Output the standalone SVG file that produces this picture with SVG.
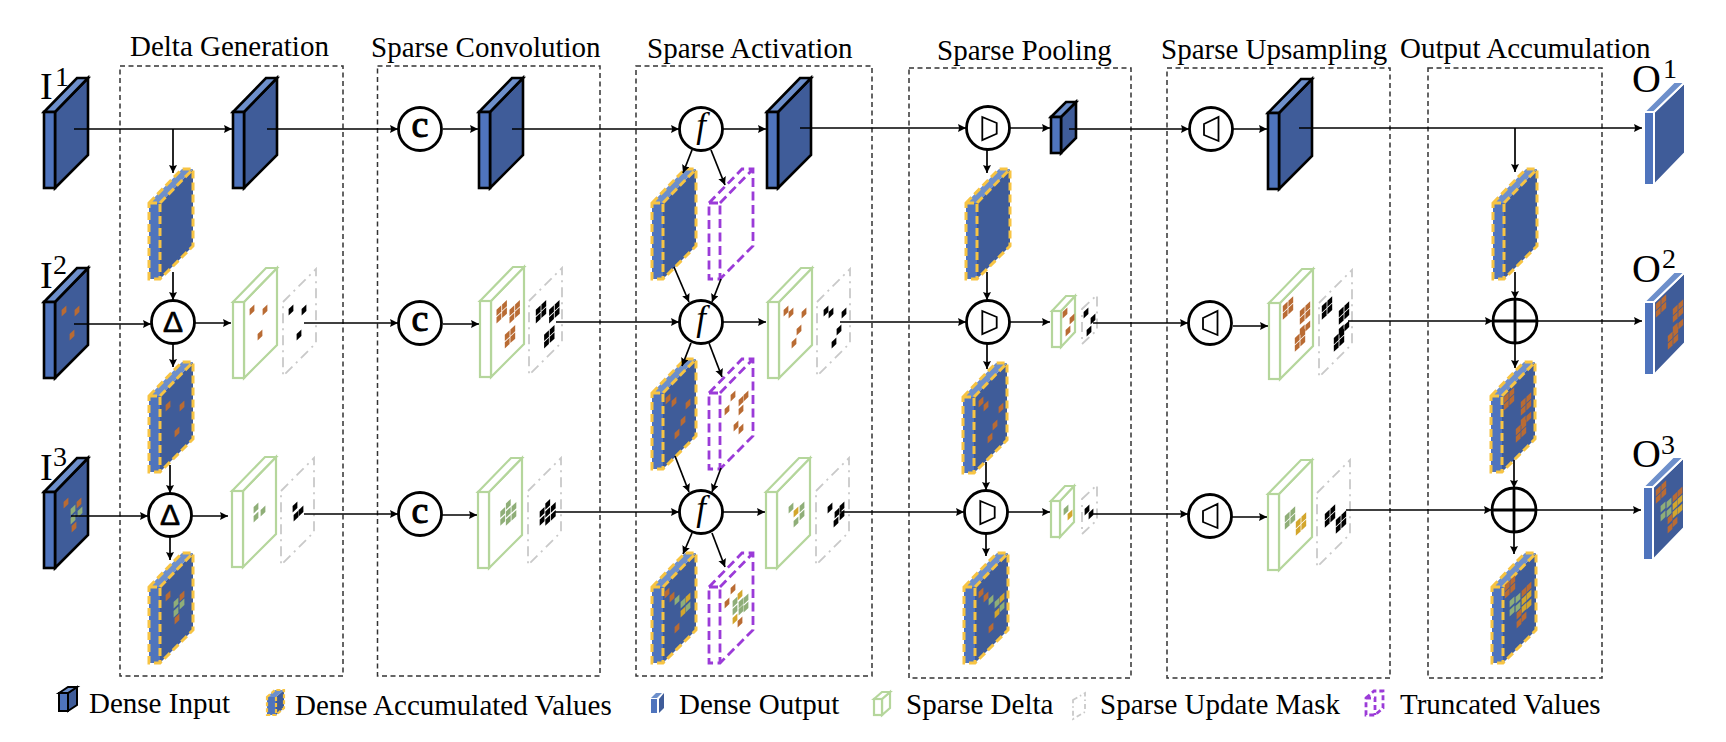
<svg xmlns="http://www.w3.org/2000/svg" width="1726" height="742" viewBox="0 0 1726 742">
<style>
text{font-family:"Liberation Serif","Times New Roman",serif;fill:#000}
.h{font-size:29px}
.big{font-size:38px}
.sup{font-size:28px}
.frame{fill:none;stroke:#333;stroke-width:1.5;stroke-dasharray:5 3.5}
.side{fill:#4f74bd}.top{fill:#6d8fcb}.face{fill:#3f5c99}
.dense{stroke:#000;stroke-width:2.6;stroke-linejoin:miter}
.acc{stroke:#f7c443;stroke-width:3;stroke-dasharray:8 4}
.out{stroke:#fff;stroke-width:2}
.sparse{fill:#fff;stroke:#b5d69c;stroke-width:2.2}
.trunc{fill:none;stroke:#9b3bd8;stroke-width:2.8;stroke-dasharray:9 4.500}
.mask{fill:none;stroke:#c9c9c9;stroke-width:1.8;stroke-dasharray:10 5 2 5}
.op{fill:#fff;stroke:#000;stroke-width:2.8}
.cc{font-size:38px;font-weight:400;stroke:#000;stroke-width:1}
.dl{font-family:"Liberation Sans",sans-serif;font-size:30px;stroke:#000;stroke-width:.7}
.fn{font-size:35px;font-style:italic}
.glyph{fill:none;stroke:#000;stroke-width:1.8}
.cross{stroke:#000;stroke-width:2.8}
.b{fill:#b96b33}.g{fill:#8fae78}.y{fill:#d3a62c}.k{fill:#000}
#connectors line{stroke:#000;stroke-width:1.7;marker-end:url(#ah)}
</style>
<defs>
<marker id="ah" markerUnits="userSpaceOnUse" markerWidth="9" markerHeight="9" refX="8" refY="4" orient="auto"><path d="M0 0L8 4L0 8L1.2 4Z" fill="#000"/></marker>
<path id="c" d="M-2.4-.9L2.400-5.400V1L-2.4 5.400Z"/>
<g id="q"><use href="#c" x="-2.8" y="-1"/><use href="#c" x="-2.8" y="6.4"/><use href="#c" x="2.8" y="-6.4"/><use href="#c" x="2.8" y="1"/></g>
<g id="p2"><use href="#q"/><use href="#q" x="17" y="5"/><use href="#c" x="19.800" y="18"/><use href="#c" x="14.200" y="22"/><use href="#q" x="12" y="32"/></g>
<g id="p7"><use href="#c" x="-5.6" y="-2"/><use href="#c" x="-5.6" y="6"/><use href="#c" y="-10"/><use href="#c" y="-2"/><use href="#c" y="6"/><use href="#c" x="5.6" y="-7"/><use href="#c" x="5.6" y="1"/></g>
<g id="p3"><use href="#q" class="b"/><use href="#c" x="14" y="5" class="b"/><use href="#c" x="19" class="b"/><use href="#c" x="14" y="13" class="y"/><use href="#c" x="19" y="8" class="y"/><use href="#c" x="8" y="11" class="g"/><use href="#c" x="2" y="15" class="g"/><use href="#c" x="8" y="20" class="g"/><use href="#c" x="2" y="24" class="g"/><use href="#c" x="14" y="21" class="y"/><use href="#c" x="19" y="17" class="y"/><use href="#c" x="9" y="27" class="b"/><use href="#c" x="14" y="30" class="b"/><use href="#c" x="9" y="36" class="b"/></g>
<g id="dense"><g class="dense"><polygon class="face" points="11,0 44,-34 44,43 11,76"/><polygon class="top" points="0,0 33,-34 44,-34 11,0"/><rect class="side" width="11" height="76"/></g></g>
<g id="acc"><polygon class="face" points="11,0 44,-34 44,43 11,76"/><polygon class="top" points="0,0 33,-34 44,-34 11,0"/><rect class="side" width="11" height="76"/><path class="acc" fill="none" d="M0 0L33-34H44V43L11 76H0ZM0 0H11V76M11 0L44-34"/></g>
<g id="out"><g class="out"><polygon class="face" points="10,0 41,-30 41,41 10,73"/><polygon class="top" points="0,0 30,-30 41,-30 10,0"/><rect class="side" width="10" height="73"/></g></g>
<g id="sparse"><g class="sparse"><polygon points="11,0 44,-34 44,43 11,76"/><polygon points="0,0 33,-34 44,-34 11,0"/><rect width="11" height="76"/></g></g>
<g id="trunc"><path class="trunc" d="M0 0L33-34H44V43L11 76H0ZM0 0H11V76M11 0L44-34"/></g>
<path id="mask" class="mask" d="M0 0L33-33V41L0 74Z"/>
<g id="maskS"><path class="mask" d="M0 0L15-14V21L0 35Z"/></g>
<g id="sparseS"><g class="sparse"><polygon points="9,0 23,-15 23,21 9,36"/><polygon points="0,0 14,-15 23,-15 9,0"/><rect width="9" height="36"/></g></g>
<circle id="op" class="op" r="21.5"/>
</defs>
<rect width="1726" height="742" fill="#fff"/>
<g id="frames">
<rect class="frame" x="120" y="66" width="223" height="610"/>
<rect class="frame" x="377.500" y="66" width="222.500" height="610"/>
<rect class="frame" x="636" y="66" width="236" height="610"/>
<rect class="frame" x="909" y="68" width="222" height="610"/>
<rect class="frame" x="1167" y="68" width="223" height="610"/>
<rect class="frame" x="1428" y="68" width="174" height="610"/>
</g>
<g id="stage-labels">
<text class="h" x="130" y="56">Delta Generation</text>
<text class="h" x="371" y="57">Sparse Convolution</text>
<text class="h" x="647" y="58">Sparse Activation</text>
<text class="h" x="937" y="60">Sparse Pooling</text>
<text class="h" x="1161" y="59">Sparse Upsampling</text>
<text class="h" x="1400" y="58">Output Accumulation</text>
</g>
<g id="I1"><use href="#dense" x="44" y="112"/><text class="big" x="40" y="99">I</text><text class="sup" x="55" y="86">1</text></g>
<g id="I2"><use href="#dense" x="44" y="302"/><use href="#c" x="64" y="311" class="b"/><use href="#c" x="77" y="311" class="b"/><use href="#c" x="72" y="335" class="b"/><text class="big" x="40" y="288">I</text><text class="sup" x="53" y="274">2</text></g>
<g id="I3"><use href="#dense" x="44" y="492"/><use href="#c" x="66" y="503" class="b"/><use href="#c" x="79" y="503" class="b"/><use href="#c" x="73" y="510" class="g"/><use href="#c" x="80" y="512" class="g"/><use href="#c" x="73" y="519" class="g"/><use href="#c" x="74" y="527" class="b"/><text class="big" x="40" y="480">I</text><text class="sup" x="53" y="466">3</text></g>
<g id="delta-dense"><use href="#dense" x="233" y="112"/></g>
<g id="delta-acc1"><use href="#acc" x="149" y="203"/></g>
<g id="delta-acc2"><use href="#acc" x="149" y="396"/><use href="#c" x="168" y="406" class="b"/><use href="#c" x="182" y="406" class="b"/><use href="#c" x="177" y="432" class="b"/></g>
<g id="delta-acc3"><use href="#acc" x="149" y="587"/><use href="#c" x="168" y="596" class="b"/><use href="#c" x="182" y="596" class="b"/><use href="#c" x="176" y="603" class="g"/><use href="#c" x="182" y="604" class="g"/><use href="#c" x="176" y="612" class="g"/><use href="#c" x="177" y="619" class="b"/></g>
<g id="delta-op2"><use href="#op" x="173" y="322"/><text class="dl" x="173" y="332" text-anchor="middle">Δ</text></g>
<g id="delta-op3"><use href="#op" x="170" y="515"/><text class="dl" x="170" y="525" text-anchor="middle">Δ</text></g>
<g id="delta-sparse2"><use href="#sparse" x="233" y="302"/><use href="#c" x="252" y="310" class="b"/><use href="#c" x="265" y="310" class="b"/><use href="#c" x="260" y="335" class="b"/></g>
<g id="delta-mask2"><use href="#mask" x="283" y="302"/><use href="#c" x="291" y="310" class="k"/><use href="#c" x="304" y="310" class="k"/><use href="#c" x="299" y="335" class="k"/></g>
<g id="delta-sparse3"><use href="#sparse" x="232" y="491"/><use href="#c" x="256" y="508" class="g"/><use href="#c" x="263" y="511" class="g"/><use href="#c" x="256" y="517" class="g"/></g>
<g id="delta-mask3"><use href="#mask" x="281" y="491"/><use href="#c" x="295" y="507" class="k"/><use href="#c" x="301" y="511" class="k"/><use href="#c" x="296" y="516" class="k"/></g>
<g id="conv-op1"><use href="#op" x="420" y="129"/><text class="cc" x="420" y="137" text-anchor="middle">c</text></g>
<g id="conv-op2"><use href="#op" x="420" y="323"/><text class="cc" x="420" y="331" text-anchor="middle">c</text></g>
<g id="conv-op3"><use href="#op" x="420" y="514"/><text class="cc" x="420" y="523" text-anchor="middle">c</text></g>
<g id="conv-dense"><use href="#dense" x="479" y="112"/></g>
<g id="conv-sparse2"><use href="#sparse" x="480" y="301"/><use href="#q" x="501.700" y="311.700" class="b"/><use href="#q" x="514.700" y="311.700" class="b"/><use href="#q" x="510" y="336.700" class="b"/></g>
<g id="conv-mask2"><use href="#mask" x="529" y="301"/><use href="#q" x="541" y="311.700" class="k"/><use href="#q" x="554.300" y="311.700" class="k"/><use href="#q" x="549.300" y="336.700" class="k"/></g>
<g id="conv-sparse3"><use href="#sparse" x="478" y="492"/><use href="#p7" x="508.300" y="514.300" class="g"/></g>
<g id="conv-mask3"><use href="#mask" x="528" y="491"/><use href="#p7" x="547.700" y="514.300" class="k"/></g>
<g id="act-op1"><use href="#op" x="701" y="129"/><text class="fn" x="701" y="137" text-anchor="middle">f</text></g>
<g id="act-op2"><use href="#op" x="701" y="322"/><text class="fn" x="701" y="330" text-anchor="middle">f</text></g>
<g id="act-op3"><use href="#op" x="701" y="512"/><text class="fn" x="701" y="520" text-anchor="middle">f</text></g>
<g id="act-dense"><use href="#dense" x="767" y="112"/></g>
<g id="act-acc1"><use href="#acc" x="652" y="203"/></g>
<g id="act-trunc1"><use href="#trunc" x="709" y="203"/></g>
<g id="act-sparse2"><use href="#sparse" x="768" y="302"/><use href="#c" x="786" y="311" class="b"/><use href="#c" x="791" y="313" class="b"/><use href="#c" x="804" y="313" class="b"/><use href="#c" x="799" y="330" class="b"/><use href="#c" x="794" y="343" class="b"/></g>
<g id="act-mask2"><use href="#mask" x="817" y="302"/><use href="#c" x="826" y="311" class="k"/><use href="#c" x="831" y="313" class="k"/><use href="#c" x="844" y="313" class="k"/><use href="#c" x="839" y="330" class="k"/><use href="#c" x="834" y="343" class="k"/></g>
<g id="act-acc2"><use href="#acc" x="652" y="393"/><use href="#c" x="668" y="399" class="b"/><use href="#c" x="674" y="402" class="b"/><use href="#c" x="688" y="404" class="b"/><use href="#c" x="683" y="421" class="b"/><use href="#c" x="677" y="434" class="b"/></g>
<g id="act-trunc2"><use href="#trunc" x="709" y="393"/><use href="#c" x="733" y="396" class="b"/><use href="#c" x="741" y="401" class="b"/><use href="#c" x="746" y="396" class="b"/><use href="#c" x="727" y="410" class="b"/><use href="#c" x="741" y="410" class="b"/><use href="#c" x="736" y="426" class="b"/><use href="#c" x="741" y="429" class="b"/></g>
<g id="act-sparse3"><use href="#sparse" x="766" y="492"/><use href="#c" x="791" y="508" class="g"/><use href="#c" x="802" y="507" class="g"/><use href="#c" x="796" y="512" class="y"/><use href="#c" x="802" y="515" class="g"/><use href="#c" x="796" y="522" class="g"/></g>
<g id="act-mask3"><use href="#mask" x="816" y="491"/><use href="#c" x="830" y="508" class="k"/><use href="#c" x="837" y="513" class="k"/><use href="#c" x="842" y="507" class="k"/><use href="#c" x="842" y="515" class="k"/><use href="#c" x="836" y="522" class="k"/></g>
<g id="act-acc3"><use href="#acc" x="652" y="587"/><use href="#c" x="667" y="593" class="b"/><use href="#c" x="672" y="597" class="b"/><use href="#c" x="677" y="600" class="g"/><use href="#c" x="683" y="603" class="g"/><use href="#c" x="688" y="598" class="y"/><use href="#c" x="688" y="607" class="g"/><use href="#c" x="683" y="612" class="y"/><use href="#c" x="677" y="628" class="b"/></g>
<g id="act-trunc3"><use href="#trunc" x="709" y="587"/><use href="#c" x="733" y="589" class="b"/><use href="#c" x="727" y="603" class="b"/><use href="#c" x="740" y="595" class="y"/><use href="#c" x="735" y="602" class="g"/><use href="#c" x="741" y="603" class="g"/><use href="#c" x="746" y="599" class="g"/><use href="#c" x="735" y="610" class="g"/><use href="#c" x="741" y="610" class="g"/><use href="#c" x="746" y="607" class="g"/><use href="#c" x="735" y="619" class="y"/><use href="#c" x="740" y="622" class="b"/></g>
<g id="pool-op1"><use href="#op" x="988" y="128"/><path class="glyph" transform="translate(988 128)" d="M-5.700-11L8.700-5V5.700L-5.700 12Z"/></g>
<g id="pool-op2"><use href="#op" x="988" y="322"/><path class="glyph" transform="translate(988 322)" d="M-5.700-11L8.700-5V5.700L-5.700 12Z"/></g>
<g id="pool-op3"><use href="#op" x="986" y="512"/><path class="glyph" transform="translate(986 512)" d="M-5.700-11L8.700-5V5.700L-5.700 12Z"/></g>
<g id="pool-acc1"><use href="#acc" x="966" y="203"/></g>
<g id="pool-acc2"><use href="#acc" x="963" y="397"/><use href="#c" x="981" y="402" class="b"/><use href="#c" x="986" y="406" class="b"/><use href="#c" x="1001" y="408" class="b"/><use href="#c" x="995" y="425" class="b"/><use href="#c" x="990" y="438" class="b"/></g>
<g id="pool-acc3"><use href="#acc" x="964" y="587"/><use href="#c" x="981" y="593" class="b"/><use href="#c" x="986" y="597" class="b"/><use href="#c" x="991" y="600" class="g"/><use href="#c" x="997" y="603" class="g"/><use href="#c" x="1002" y="598" class="y"/><use href="#c" x="1002" y="607" class="g"/><use href="#c" x="997" y="613" class="y"/><use href="#c" x="991" y="628" class="b"/></g>
<g id="pool-dense"><g class="dense"><polygon class="face" points="1061,117 1076,102 1076,138 1061,153"/><polygon class="top" points="1051,117 1066,102 1076,102 1061,117"/><rect class="side" x="1051" y="117" width="10" height="36"/></g></g>
<g id="pool-sparse2"><use href="#sparseS" x="1052" y="311"/><use href="#c" x="1065" y="313" class="b"/><use href="#c" x="1072" y="319" class="b"/><use href="#c" x="1068" y="331" class="b"/></g>
<g id="pool-mask2"><use href="#maskS" x="1082" y="309"/><use href="#c" x="1086" y="313" class="k"/><use href="#c" x="1093" y="319" class="k"/><use href="#c" x="1089" y="331" class="k"/></g>
<g id="pool-sparse3"><use href="#sparseS" x="1051" y="501"/><use href="#c" x="1066" y="510" class="g"/><use href="#c" x="1070" y="515" class="y"/></g>
<g id="pool-mask3"><use href="#maskS" x="1082" y="499"/><use href="#c" x="1087" y="510" class="k"/><use href="#c" x="1091" y="514" class="k"/></g>
<g id="up-op1"><use href="#op" x="1211" y="129"/><path class="glyph" transform="translate(1211 129)" d="M-7-5L7.500-12V12L-7 6Z"/></g>
<g id="up-op2"><use href="#op" x="1210" y="323"/><path class="glyph" transform="translate(1210 323)" d="M-7-5L7.500-12V12L-7 6Z"/></g>
<g id="up-op3"><use href="#op" x="1210" y="516"/><path class="glyph" transform="translate(1210 516)" d="M-7-5L7.500-12V12L-7 6Z"/></g>
<g id="up-dense"><use href="#dense" x="1268" y="113"/></g>
<g id="up-sparse2"><use href="#sparse" x="1269" y="303"/><use href="#p2" x="1288" y="308" class="b"/></g>
<g id="up-mask2"><use href="#mask" x="1319" y="303"/><use href="#p2" x="1327" y="308" class="k"/></g>
<g id="up-sparse3"><use href="#sparse" x="1268" y="494"/><use href="#q" x="1290" y="518" class="g"/><use href="#q" x="1301" y="524" class="y"/></g>
<g id="up-mask3"><use href="#mask" x="1317" y="493"/><use href="#q" x="1330" y="516" class="k"/><use href="#q" x="1341" y="522" class="k"/></g>
<g id="acc-acc1"><use href="#acc" x="1493" y="203"/></g>
<g id="acc-acc2"><use href="#acc" x="1491" y="396"/><use href="#p2" x="1509" y="399" class="b"/></g>
<g id="acc-acc3"><use href="#acc" x="1492" y="587"/><use href="#p3" x="1510" y="587"/></g>
<g id="O1"><use href="#out" x="1644" y="112"/><text class="big" x="1632" y="92" style="font-size:40px">O</text><text class="sup" x="1663" y="78">1</text></g>
<g id="O2"><use href="#out" x="1644" y="302"/><use href="#p2" x="1661" y="306" class="b"/><text class="big" x="1632" y="282" style="font-size:40px">O</text><text class="sup" x="1662" y="268">2</text></g>
<g id="O3"><use href="#out" x="1643" y="487"/><use href="#p3" x="1661" y="492"/><text class="big" x="1632" y="467" style="font-size:40px">O</text><text class="sup" x="1661" y="454">3</text></g>
<g id="connectors">
<line x1="74" y1="129" x2="232" y2="129"/><line x1="173" y1="129" x2="173" y2="173"/><line x1="267" y1="129" x2="398" y2="129"/><line x1="443" y1="129" x2="478" y2="129"/><line x1="512" y1="129" x2="679" y2="129"/><line x1="723" y1="129" x2="766" y2="129"/><line x1="800" y1="128" x2="966" y2="128"/><line x1="1010" y1="128" x2="1050" y2="128"/><line x1="1069" y1="129" x2="1189" y2="129"/><line x1="1233" y1="129" x2="1267" y2="129"/><line x1="1299" y1="128" x2="1642" y2="128"/><line x1="1515" y1="128" x2="1515" y2="172"/>
<line x1="173" y1="272" x2="173" y2="300"/><line x1="173" y1="344" x2="173" y2="367"/><line x1="74" y1="324" x2="151" y2="324"/><line x1="195" y1="323" x2="231" y2="323"/><line x1="304" y1="323" x2="398" y2="323"/><line x1="443" y1="324" x2="479" y2="324"/><line x1="556" y1="322" x2="679" y2="322"/><line x1="723" y1="322" x2="766" y2="322"/><line x1="840" y1="322" x2="966" y2="322"/><line x1="1010" y1="322" x2="1050" y2="322"/><line x1="1093" y1="323" x2="1188" y2="323"/><line x1="1233" y1="326" x2="1268" y2="326"/><line x1="1348" y1="321" x2="1493" y2="321"/><line x1="1537" y1="321" x2="1642" y2="321"/><line x1="1515" y1="272" x2="1515" y2="299"/><line x1="1515" y1="343" x2="1515" y2="368"/>
<line x1="71" y1="516" x2="148" y2="516"/><line x1="170" y1="465" x2="170" y2="493"/><line x1="170" y1="537" x2="170" y2="560"/><line x1="192" y1="516" x2="228" y2="516"/><line x1="304" y1="514" x2="398" y2="514"/><line x1="442" y1="515" x2="477" y2="515"/><line x1="555" y1="512" x2="679" y2="512"/><line x1="723" y1="512" x2="765" y2="512"/><line x1="840" y1="512" x2="964" y2="512"/><line x1="1008" y1="512" x2="1050" y2="512"/><line x1="1093" y1="514" x2="1188" y2="514"/><line x1="1232" y1="517" x2="1267" y2="517"/><line x1="1346" y1="510" x2="1492" y2="510"/><line x1="1536" y1="510" x2="1641" y2="510"/><line x1="1514" y1="460" x2="1514" y2="488"/><line x1="1514" y1="532" x2="1514" y2="554"/>
<line x1="692" y1="150" x2="683" y2="173"/><line x1="711" y1="150" x2="725" y2="185"/><line x1="674" y1="267" x2="689" y2="302"/><line x1="721" y1="279" x2="712" y2="302"/><line x1="691" y1="343" x2="682" y2="366"/><line x1="709" y1="343" x2="722" y2="377"/><line x1="675" y1="456" x2="689" y2="492"/><line x1="721" y1="468" x2="712" y2="492"/><line x1="692" y1="533" x2="683" y2="554"/><line x1="712" y1="533" x2="725" y2="567"/>
<line x1="987" y1="150" x2="987" y2="173"/><line x1="987" y1="272" x2="987" y2="300"/><line x1="987" y1="344" x2="987" y2="369"/><line x1="986" y1="462" x2="986" y2="490"/><line x1="986" y1="534" x2="986" y2="556"/>
</g>
<g id="acc-op2"><circle class="op" cx="1515" cy="321" r="22" style="fill:none"/><path class="cross" d="M1493 321H1537M1515 299V343"/></g>
<g id="acc-op3"><circle class="op" cx="1514" cy="510" r="22" style="fill:none"/><path class="cross" d="M1492 510H1536M1514 488V532"/></g>
<g id="legend">
<g id="legend-dense"><g class="dense" style="stroke-width:2"><polygon class="face" points="68,693 77,687 77,705 68,711"/><polygon class="top" points="59,693 68,687 77,687 68,693"/><rect class="side" x="59" y="693" width="9" height="18"/></g><text class="h" x="89" y="713">Dense Input</text></g>
<g id="legend-acc"><polygon class="face" points="276,697 284,690 284,708 276,715"/><polygon class="top" points="267,697 275,690 284,690 276,697"/><rect class="side" x="267" y="697" width="9" height="18"/><path class="acc" fill="none" style="stroke-width:2.2;stroke-dasharray:4 2" d="M267 697L275 690H284V708L276 715H267ZM276 697V715"/><text class="h" x="295" y="715">Dense Accumulated Values</text></g>
<g id="legend-out"><polygon class="face" points="659,699 664,693 664,708 659,713"/><polygon class="top" points="651,698 656,693 662,693 657,698"/><rect class="side" x="651" y="699" width="6" height="14"/><text class="h" x="679" y="714">Dense Output</text></g>
<g id="legend-sparse"><g class="sparse"><polygon points="882,699 890,692 890,708 882,715"/><polygon points="874,699 882,692 890,692 882,699"/><rect x="874" y="699" width="8" height="16"/></g><text class="h" x="906" y="714">Sparse Delta</text></g>
<g id="legend-mask"><path class="mask" style="stroke-dasharray:5 3 1.500 3" d="M1073 700L1085 693V712L1073 719Z"/><text class="h" x="1100" y="714">Sparse Update Mask</text></g>
<g id="legend-trunc"><path class="trunc" style="stroke-dasharray:5 3" d="M1366 698L1374 691H1383V708L1375 715H1366ZM1366 698H1375V715"/><text class="h" x="1400" y="714">Truncated Values</text></g>
</g>
</svg>
